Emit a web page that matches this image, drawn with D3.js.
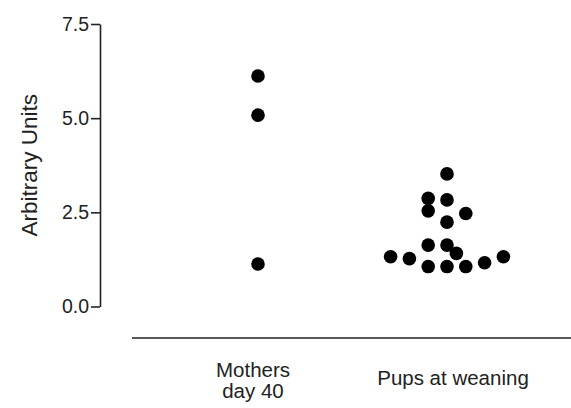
<!DOCTYPE html>
<html>
<head>
<meta charset="utf-8">
<script src="https://cdn.jsdelivr.net/npm/d3@7"></script>
<style>
  body { margin: 0; background: #fff; }
  text { font-family: "Liberation Sans", Arial, sans-serif; fill: #222; }
</style>
</head>
<body>
<div id="chart"></div>
<script>
// categories and values
const categories = ["Mothers day 40", "Pups at weaning"];
const mothersValues = [6.12, 5.08, 1.13];
const pupsValues = [3.52, 2.87, 2.83, 2.54, 2.47, 2.24, 1.63, 1.63, 1.41, 1.32, 1.27, 1.32, 1.16, 1.06, 1.06, 1.06];
// horizontal slot of each pup dot in the swarm (units of one dot width)
const pupsSlots = [0, -1, 0, -1, 1, 0, -1, 0, 0.5, -3, -2, 3, 2, -1, 0, 1];
const yTicks = [0, 2.5, 5, 7.5];

const width = 571, height = 408;
const dotR = 6.8, slotW = 18.8;

const svg = d3.select("#chart").append("svg")
    .attr("width", width)
    .attr("height", height);

const y = d3.scaleLinear().domain([0, 7.5]).range([306.5, 24]);
const x = d3.scalePoint().domain(categories).range([258, 447]);

// y axis
const yAxis = svg.append("g")
    .attr("transform", "translate(100,0)")
    .call(d3.axisLeft(y).tickValues(yTicks).tickFormat(d3.format(".1f")).tickSize(9).tickSizeOuter(0));
yAxis.select(".domain").attr("stroke", "#222").attr("stroke-width", 1.6);
yAxis.selectAll(".tick line").attr("stroke", "#222").attr("stroke-width", 1.6);
yAxis.selectAll(".tick text")
    .attr("font-size", 19.5)
    .attr("font-family", null)
    .attr("fill", "#333")
    .attr("x", -11);

svg.append("text")
    .attr("transform", `translate(37, ${y(3.75)}) rotate(-90)`)
    .attr("text-anchor", "middle")
    .attr("font-size", 22.5)
    .attr("fill", "#333")
    .text("Arbitrary Units");

// x axis: plain line, no ticks
svg.append("line")
    .attr("x1", 132).attr("x2", width)
    .attr("y1", 338).attr("y2", 338)
    .attr("stroke", "#222").attr("stroke-width", 1.6);

const labelLines = [["Mothers", "day 40"], ["Pups at weaning"]];
const labelShift = [-5, 6];
categories.forEach((c, i) => {
    const t = svg.append("text")
        .attr("text-anchor", "middle")
        .attr("font-size", 20.5)
        .attr("fill", "#222")
        .attr("x", x(c) + labelShift[i])
        .attr("y", labelLines[i].length > 1 ? 377 : 385);
    labelLines[i].forEach((s, j) => {
        t.append("tspan")
            .attr("x", x(c) + labelShift[i])
            .attr("dy", j === 0 ? 0 : 21)
            .text(s);
    });
});

// dots
const points = mothersValues.map(v => ({ cat: categories[0], v: v, slot: 0 }))
    .concat(pupsValues.map((v, i) => ({ cat: categories[1], v: v, slot: pupsSlots[i] })));

svg.selectAll(".dot")
    .data(points)
    .enter()
    .append("circle")
    .attr("class", "dot")
    .attr("cx", d => x(d.cat) + d.slot * slotW)
    .attr("cy", d => y(d.v))
    .attr("r", dotR)
    .attr("fill", "#000");
</script>
</body>
</html>
